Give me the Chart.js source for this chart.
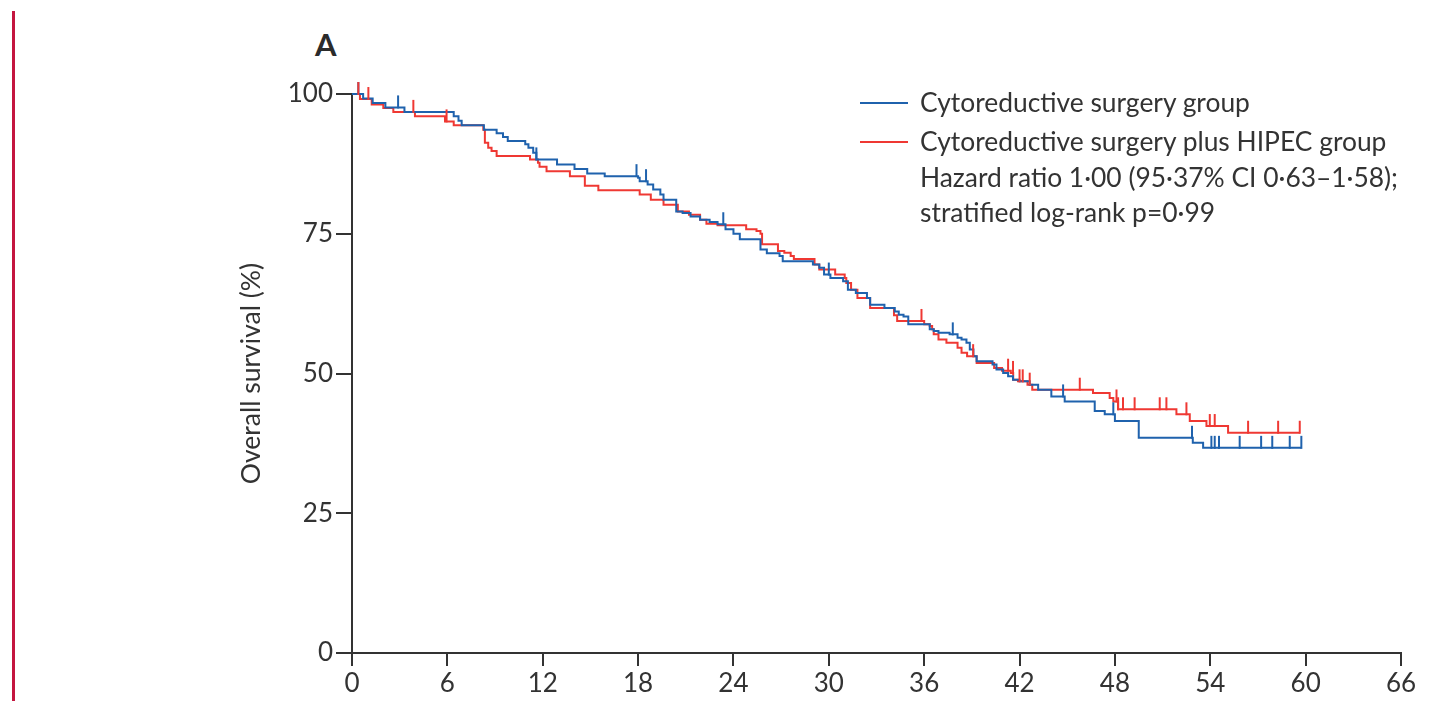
<!DOCTYPE html>
<html>
<head>
<meta charset="utf-8">
<title>Overall survival</title>
<script src="https://cdn.jsdelivr.net/npm/chart.js@4.4.1/dist/chart.umd.min.js"></script>
<style>
  html, body { margin: 0; padding: 0; background: #ffffff; }
  #wrap { position: relative; width: 1445px; height: 701px; overflow: hidden; font-family: Lato, "Open Sans", sans-serif; color: #333333; }
  #chart { position: absolute; left: 0; top: 0; }
  #marginRule { position: absolute; left: 12px; top: 11px; width: 3px; height: 700px; background: #c4163f; }
  #panel { position: absolute; left: 315px; top: 29px; font-size: 31px; font-weight: 700; line-height: 1; color: #2b2b2b; }
  .legRow { position: absolute; left: 920px; font-size: 26.4px; line-height: 1; white-space: nowrap; color: #333333; }
  .legLine { position: absolute; left: 860px; width: 48px; height: 2px; }
</style>
</head>
<body>
<div id="wrap">
  <div id="marginRule"></div>
  <div id="panel">A</div>
  <canvas id="chart" width="1445" height="701"></canvas>
  <div id="legend"></div>
</div>
<script>
// Kaplan-Meier estimates: time in months and overall survival (%) after each step
const crsTimes = [0, 0.7, 1.3, 2.1, 3.3, 6.4, 6.7, 6.9, 8.3, 9.1, 9.5, 9.8, 10.9, 11.1, 11.4, 11.6,
  12.9, 14.0, 14.8, 15.9, 18.0, 18.1, 18.6, 18.95, 19.4, 19.6, 20.4, 20.8, 21.3, 21.9, 22.5, 23.0,
  23.5, 24.0, 24.4, 25.7, 26.1, 26.9, 27.1, 29.0, 29.4, 29.7, 30.1, 30.9, 31.2, 31.7, 32.4, 32.6,
  33.5, 34.15, 34.4, 34.7, 35.0, 36.35, 36.6, 36.9, 37.6, 38.1, 38.35, 38.66, 38.87, 39.1, 39.3,
  40.3, 40.55, 40.97, 41.28, 41.59, 42.0, 42.64, 43.17, 44.0, 44.84, 46.73, 47.36, 48.0, 49.5,
  52.9, 53.55, 59.73];
const crsSurvival = [100, 99.2, 98.4, 97.6, 96.8, 96.0, 95.2, 94.4, 93.6, 93.0, 92.3, 91.6, 91.0, 90.4, 89.5, 88.3,
  87.4, 86.6, 85.8, 85.3, 85.0, 84.4, 83.8, 82.9, 82.0, 81.1, 79.0, 78.7, 78.1, 77.5, 77.1, 76.7,
  75.8, 75.0, 74.0, 72.2, 71.5, 71.0, 70.1, 69.5, 68.9, 67.7, 67.1, 66.5, 65.0, 64.4, 63.5, 62.3,
  61.7, 61.1, 60.5, 60.2, 58.8, 57.9, 57.6, 57.3, 57.0, 56.4, 56.1, 55.5, 54.3, 53.1, 52.2,
  51.6, 50.7, 50.1, 49.5, 48.9, 48.6, 48.0, 47.1, 45.9, 45.0, 43.3, 42.7, 41.5, 38.5,
  37.6, 36.7, 36.7];
const crsCensored = [0.4, 2.9, 11.6, 17.9, 18.5, 23.36, 30.0, 37.8, 44.74, 47.9, 52.85,
  54.07, 54.28, 54.55, 55.85, 57.2, 57.9, 59.0, 59.73];

const hipecTimes = [0, 0.5, 1.24, 1.97, 2.6, 3.96, 5.85, 6.4, 8.26, 8.36, 8.57, 8.78, 9.1, 11.2, 11.7,
  11.8, 12.24, 13.71, 14.65, 15.5, 18.1, 18.8, 19.6, 20.5, 21.2, 21.9, 22.3, 23.0, 24.8, 25.45,
  25.7, 25.8, 26.8, 27.2, 27.6, 27.8, 29.1, 29.4, 30.4, 31.0, 31.1, 31.4, 31.8, 32.6, 34.1, 34.3,
  36.0, 36.35, 36.5, 36.6, 36.9, 37.4, 38.1, 38.35, 38.7, 39.3, 40.4, 40.9, 41.45, 41.6, 41.9,
  42.5, 42.8, 46.62, 47.67, 47.9, 48.2, 51.87, 52.71, 53.76, 55.12, 59.63];
const hipecSurvival = [100, 99.1, 98.1, 97.5, 96.8, 96.0, 95.1, 94.4, 93.6, 91.3, 90.4, 89.8, 88.9, 88.3, 87.7,
  87.0, 86.2, 85.3, 83.6, 82.8, 82.0, 81.1, 80.2, 79.0, 78.4, 77.5, 76.8, 76.5, 75.8, 75.5,
  75.0, 73.1, 71.9, 71.6, 71.0, 70.5, 69.5, 68.6, 67.7, 67.1, 66.2, 65.0, 63.5, 61.7, 60.4, 59.4,
  58.8, 58.5, 57.9, 57.0, 56.1, 55.5, 54.6, 53.7, 53.1, 51.9, 51.0, 50.5, 50.1, 48.9, 48.6,
  48.0, 47.1, 46.5, 45.6, 45.0, 43.6, 42.7, 41.5, 40.6, 39.4, 39.4];
const hipecCensored = [0.4, 1.03, 3.86, 5.95, 35.83, 39.08, 41.28, 41.59, 42.0, 42.2, 42.64, 45.79,
  48.1, 48.2, 48.51, 49.24, 50.82, 51.24, 52.5, 53.97, 54.28, 56.38, 58.27, 59.63];

const monthTicks = [0, 6, 12, 18, 24, 30, 36, 42, 48, 54, 60, 66];
const survivalTicks = [0, 25, 50, 75, 100];

const seriesLabels = ['Cytoreductive surgery group', 'Cytoreductive surgery plus HIPEC group'];
const noteLines = ['Hazard ratio 1·00 (95·37% CI 0·63–1·58);', 'stratified log-rank p=0·99'];

const BLUE = '#1f62ad';
const RED = '#ef3833';
const INK = '#333333';

function toPoints(times, values) {
  return times.map((t, i) => ({ x: t, y: values[i] }));
}

// survival level of a step curve at time t
function levelAt(times, values, t) {
  let v = values[0];
  for (let i = 0; i < times.length; i++) {
    if (times[i] <= t + 1e-9) v = values[i]; else break;
  }
  return v;
}

// short vertical marks for censored observations, rising from the curve
const censorMarks = {
  id: 'censorMarks',
  afterDatasetsDraw(chart) {
    const { ctx, scales: { x, y } } = chart;
    chart.data.datasets.forEach((ds) => {
      if (!ds.censored) return;
      ctx.save();
      ctx.strokeStyle = ds.borderColor;
      ctx.lineWidth = 2;
      ds.censored.forEach((t) => {
        const px = x.getPixelForValue(t);
        const py = y.getPixelForValue(levelAt(ds.stepTimes, ds.stepValues, t));
        ctx.beginPath();
        ctx.moveTo(px, py + 1);
        ctx.lineTo(px, py - 12);
        ctx.stroke();
      });
      ctx.restore();
    });
  }
};

Chart.defaults.font.family = 'Lato, "Open Sans", sans-serif';
Chart.defaults.font.size = 26;
Chart.defaults.color = INK;

const chart = new Chart(document.getElementById('chart'), {
  type: 'line',
  data: {
    datasets: [
      {
        label: seriesLabels[0],
        data: toPoints(crsTimes, crsSurvival),
        stepTimes: crsTimes, stepValues: crsSurvival, censored: crsCensored,
        borderColor: BLUE, borderWidth: 2, pointRadius: 0, stepped: 'before', clip: false, fill: false
      },
      {
        label: seriesLabels[1],
        data: toPoints(hipecTimes, hipecSurvival),
        stepTimes: hipecTimes, stepValues: hipecSurvival, censored: hipecCensored,
        borderColor: RED, borderWidth: 2, pointRadius: 0, stepped: 'before', clip: false, fill: false
      }
    ]
  },
  options: {
    responsive: false,
    animation: false,
    devicePixelRatio: 1,
    layout: { padding: { left: 236, top: 94, right: 44, bottom: 0 } },
    plugins: { legend: { display: false }, tooltip: { enabled: false } },
    scales: {
      x: {
        type: 'linear', min: 0, max: 66,
        afterFit(scale) { scale.height = 48; },
        afterBuildTicks(scale) { scale.ticks = monthTicks.map(v => ({ value: v })); },
        ticks: { padding: 2, color: INK, font: { size: 26 } },
        grid: { drawOnChartArea: false, drawTicks: true, tickLength: 13, color: INK, lineWidth: 2 },
        border: { display: true, color: INK, width: 2 }
      },
      y: {
        type: 'linear', min: 0, max: 100,
        afterFit(scale) { scale.width = 116; },
        afterBuildTicks(scale) { scale.ticks = survivalTicks.map(v => ({ value: v })); },
        ticks: { padding: 3, color: INK, font: { size: 26 } },
        grid: { drawOnChartArea: false, drawTicks: true, tickLength: 16, color: INK, lineWidth: 2 },
        border: { display: true, color: INK, width: 2 },
        title: { display: true, text: 'Overall survival (%)', color: INK, font: { size: 26.5 }, padding: { top: 0, bottom: 0 } }
      }
    }
  },
  plugins: [censorMarks]
});

// legend: series keys followed by the test result
const legend = document.getElementById('legend');
const rowTops = [89, 128, 164, 199];
const keyYs = [103, 142];
chart.data.datasets.forEach((ds, i) => {
  const key = document.createElement('div');
  key.className = 'legLine';
  key.style.top = (keyYs[i] - 1) + 'px';
  key.style.background = ds.borderColor;
  legend.appendChild(key);
});
seriesLabels.concat(noteLines).forEach((txt, i) => {
  const row = document.createElement('div');
  row.className = 'legRow';
  row.style.top = rowTops[i] + 'px';
  row.textContent = txt;
  legend.appendChild(row);
});
</script>
</body>
</html>
